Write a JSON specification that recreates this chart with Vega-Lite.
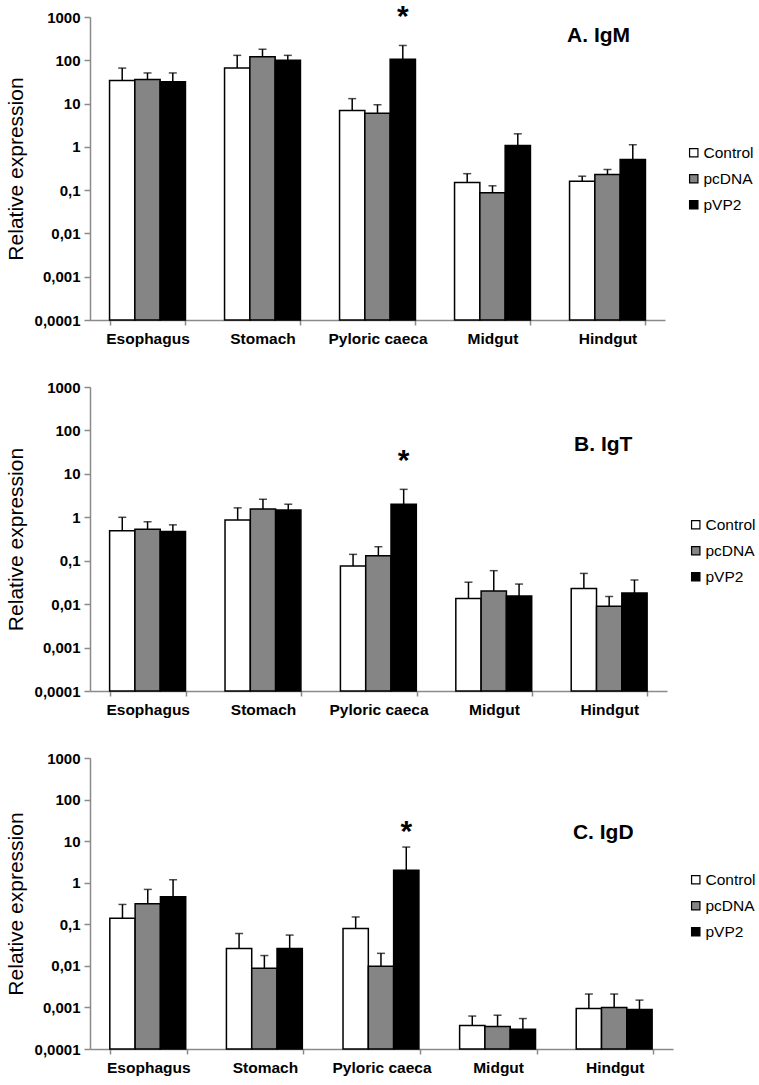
{
  "$schema": "https://vega.github.io/schema/vega-lite/v6.json",
  "background": "white",
  "padding": {"left": 5, "top": 2, "right": 2, "bottom": 5},
  "config": {
    "font": "Liberation Sans",
    "view": {"stroke": null},
    "axis": {"domainColor": "#8a8a8a", "tickColor": "#8a8a8a", "domainWidth": 1.5, "tickWidth": 1.5, "labelColor": "black", "titleColor": "black"},
    "axisX": {"title": null, "tickBand": "extent", "labelAngle": 0, "labelFontSize": 15.5, "labelFontWeight": "bold", "tickSize": 5, "labelPadding": 6},
    "legend": {"labelColor": "black"}
  },
  "datasets": {
    "igm": [
      {"tissue": "Esophagus", "group": "Control", "value": 34, "err": 66},
      {"tissue": "Esophagus", "group": "pcDNA", "value": 36, "err": 51},
      {"tissue": "Esophagus", "group": "pVP2", "value": 32, "err": 51},
      {"tissue": "Stomach", "group": "Control", "value": 66, "err": 130},
      {"tissue": "Stomach", "group": "pcDNA", "value": 120, "err": 180},
      {"tissue": "Stomach", "group": "pVP2", "value": 100, "err": 130},
      {"tissue": "Pyloric caeca", "group": "Control", "value": 6.9, "err": 13},
      {"tissue": "Pyloric caeca", "group": "pcDNA", "value": 6, "err": 9.4},
      {"tissue": "Pyloric caeca", "group": "pVP2", "value": 105, "err": 220, "sig": "*"},
      {"tissue": "Midgut", "group": "Control", "value": 0.15, "err": 0.24},
      {"tissue": "Midgut", "group": "pcDNA", "value": 0.087, "err": 0.126},
      {"tissue": "Midgut", "group": "pVP2", "value": 1.07, "err": 2.0},
      {"tissue": "Hindgut", "group": "Control", "value": 0.16, "err": 0.21},
      {"tissue": "Hindgut", "group": "pcDNA", "value": 0.23, "err": 0.30},
      {"tissue": "Hindgut", "group": "pVP2", "value": 0.51, "err": 1.12}
    ],
    "igt": [
      {"tissue": "Esophagus", "group": "Control", "value": 0.49, "err": 1.0},
      {"tissue": "Esophagus", "group": "pcDNA", "value": 0.53, "err": 0.79},
      {"tissue": "Esophagus", "group": "pVP2", "value": 0.47, "err": 0.67},
      {"tissue": "Stomach", "group": "Control", "value": 0.87, "err": 1.65},
      {"tissue": "Stomach", "group": "pcDNA", "value": 1.55, "err": 2.6},
      {"tissue": "Stomach", "group": "pVP2", "value": 1.47, "err": 2.0},
      {"tissue": "Pyloric caeca", "group": "Control", "value": 0.076, "err": 0.14},
      {"tissue": "Pyloric caeca", "group": "pcDNA", "value": 0.13, "err": 0.21},
      {"tissue": "Pyloric caeca", "group": "pVP2", "value": 2.0, "err": 4.4, "sig": "*"},
      {"tissue": "Midgut", "group": "Control", "value": 0.0135, "err": 0.032},
      {"tissue": "Midgut", "group": "pcDNA", "value": 0.02, "err": 0.059},
      {"tissue": "Midgut", "group": "pVP2", "value": 0.0155, "err": 0.029},
      {"tissue": "Hindgut", "group": "Control", "value": 0.023, "err": 0.051},
      {"tissue": "Hindgut", "group": "pcDNA", "value": 0.0089, "err": 0.015},
      {"tissue": "Hindgut", "group": "pVP2", "value": 0.018, "err": 0.036}
    ],
    "igd": [
      {"tissue": "Esophagus", "group": "Control", "value": 0.14, "err": 0.30},
      {"tissue": "Esophagus", "group": "pcDNA", "value": 0.31, "err": 0.69},
      {"tissue": "Esophagus", "group": "pVP2", "value": 0.46, "err": 1.18},
      {"tissue": "Stomach", "group": "Control", "value": 0.026, "err": 0.06},
      {"tissue": "Stomach", "group": "pcDNA", "value": 0.0087, "err": 0.0177},
      {"tissue": "Stomach", "group": "pVP2", "value": 0.026, "err": 0.055},
      {"tissue": "Pyloric caeca", "group": "Control", "value": 0.079, "err": 0.15},
      {"tissue": "Pyloric caeca", "group": "pcDNA", "value": 0.0098, "err": 0.02},
      {"tissue": "Pyloric caeca", "group": "pVP2", "value": 2.0, "err": 7.2, "sig": "*"},
      {"tissue": "Midgut", "group": "Control", "value": 0.00037, "err": 0.00062},
      {"tissue": "Midgut", "group": "pcDNA", "value": 0.00035, "err": 0.00065},
      {"tissue": "Midgut", "group": "pVP2", "value": 0.0003, "err": 0.00054},
      {"tissue": "Hindgut", "group": "Control", "value": 0.00094, "err": 0.0021},
      {"tissue": "Hindgut", "group": "pcDNA", "value": 0.001, "err": 0.0021},
      {"tissue": "Hindgut", "group": "pVP2", "value": 0.00089, "err": 0.0015}
    ]
  },
  "bounds": "flush",
  "spacing": 67,
  "resolve": {"scale": {"color": "independent", "x": "independent", "y": "independent"}, "legend": {"color": "independent"}},
  "vconcat": [
    {
      "width": 575,
      "height": 303,
      "data": {"name": "igm"},
      "encoding": {
        "x": {"field": "tissue", "type": "nominal", "sort": ["Esophagus", "Stomach", "Pyloric caeca", "Midgut", "Hindgut"],
          "scale": {"paddingInner": 0.34, "paddingOuter": 0.17}},
        "xOffset": {"field": "group", "type": "nominal", "sort": ["Control", "pcDNA", "pVP2"], "scale": {"paddingInner": 0, "paddingOuter": 0}}
      },
      "layer": [
        {
          "mark": {"type": "bar", "stroke": "black", "strokeWidth": 1.5},
          "encoding": {
            "y": {"field": "value", "type": "quantitative", "scale": {"type": "log", "domain": [0.0001, 1000], "nice": false},
              "axis": {"title": "Relative expression", "values": [0.0001, 0.001, 0.01, 0.1, 1, 10, 100, 1000], "labelExpr": "replace(format(datum.value,'~g'),'.',',')", "grid": false, "tickSize": 6, "labelFontSize": 15, "labelFontWeight": "bold", "labelPadding": 4, "titleFontSize": 21, "titleFontWeight": "normal", "titlePadding": 8}},
            "y2": {"datum": 0.0001},
            "color": {"field": "group", "type": "nominal", "sort": ["Control", "pcDNA", "pVP2"],
              "scale": {"domain": ["Control", "pcDNA", "pVP2"], "range": ["#ffffff", "#858585", "#000000"]},
              "legend": {"orient": "none", "legendX": 596, "legendY": 128, "title": null, "symbolType": "square", "symbolSize": 70, "symbolStrokeColor": "black", "symbolStrokeWidth": 1.2, "labelFontSize": 15.5, "labelOffset": 2, "rowPadding": 9}}
          }
        },
        {
          "mark": {"type": "rule", "color": "black", "strokeWidth": 1.5},
          "encoding": {"y": {"field": "value", "type": "quantitative"}, "y2": {"field": "err"}}
        },
        {
          "mark": {"type": "tick", "color": "black", "thickness": 1.5, "size": 8},
          "encoding": {"y": {"field": "err", "type": "quantitative"}}
        },
        {
          "transform": [{"filter": "datum.sig"}],
          "mark": {"type": "text", "fontSize": 30, "fontWeight": "bold", "baseline": "alphabetic", "dy": -19, "color": "black"},
          "encoding": {"y": {"field": "err", "type": "quantitative"}, "text": {"field": "sig"}}
        },
        {
          "data": {"values": [{}]},
          "mark": {"type": "text", "text": "A. IgM", "fontSize": 21, "fontWeight": "bold", "baseline": "middle", "align": "center", "dx": 29, "color": "black"},
          "encoding": {"x": {"datum": "Hindgut"}, "xOffset": {"value": 0}, "y": {"datum": 360}}
        }
      ]
    },
    {
      "width": 577,
      "height": 304,
      "data": {"name": "igt"},
      "encoding": {
        "x": {"field": "tissue", "type": "nominal", "sort": ["Esophagus", "Stomach", "Pyloric caeca", "Midgut", "Hindgut"],
          "scale": {"paddingInner": 0.34, "paddingOuter": 0.17}},
        "xOffset": {"field": "group", "type": "nominal", "sort": ["Control", "pcDNA", "pVP2"], "scale": {"paddingInner": 0, "paddingOuter": 0}}
      },
      "layer": [
        {
          "mark": {"type": "bar", "stroke": "black", "strokeWidth": 1.5},
          "encoding": {
            "y": {"field": "value", "type": "quantitative", "scale": {"type": "log", "domain": [0.0001, 1000], "nice": false},
              "axis": {"title": "Relative expression", "values": [0.0001, 0.001, 0.01, 0.1, 1, 10, 100, 1000], "labelExpr": "replace(format(datum.value,'~g'),'.',',')", "grid": false, "tickSize": 6, "labelFontSize": 15, "labelFontWeight": "bold", "labelPadding": 4, "titleFontSize": 21, "titleFontWeight": "normal", "titlePadding": 8}},
            "y2": {"datum": 0.0001},
            "color": {"field": "group", "type": "nominal", "sort": ["Control", "pcDNA", "pVP2"],
              "scale": {"domain": ["Control", "pcDNA", "pVP2"], "range": ["#ffffff", "#858585", "#000000"]},
              "legend": {"orient": "none", "legendX": 598, "legendY": 130, "title": null, "symbolType": "square", "symbolSize": 70, "symbolStrokeColor": "black", "symbolStrokeWidth": 1.2, "labelFontSize": 15.5, "labelOffset": 2, "rowPadding": 9}}
          }
        },
        {
          "mark": {"type": "rule", "color": "black", "strokeWidth": 1.5},
          "encoding": {"y": {"field": "value", "type": "quantitative"}, "y2": {"field": "err"}}
        },
        {
          "mark": {"type": "tick", "color": "black", "thickness": 1.5, "size": 8},
          "encoding": {"y": {"field": "err", "type": "quantitative"}}
        },
        {
          "transform": [{"filter": "datum.sig"}],
          "mark": {"type": "text", "fontSize": 30, "fontWeight": "bold", "baseline": "alphabetic", "dy": -19, "color": "black"},
          "encoding": {"y": {"field": "err", "type": "quantitative"}, "text": {"field": "sig"}}
        },
        {
          "data": {"values": [{}]},
          "mark": {"type": "text", "text": "B. IgT", "fontSize": 21, "fontWeight": "bold", "baseline": "middle", "align": "center", "dx": 32, "color": "black"},
          "encoding": {"x": {"datum": "Hindgut"}, "xOffset": {"value": 0}, "y": {"datum": 45}}
        }
      ]
    },
    {
      "width": 583,
      "height": 291,
      "data": {"name": "igd"},
      "encoding": {
        "x": {"field": "tissue", "type": "nominal", "sort": ["Esophagus", "Stomach", "Pyloric caeca", "Midgut", "Hindgut"],
          "scale": {"paddingInner": 0.34, "paddingOuter": 0.17}},
        "xOffset": {"field": "group", "type": "nominal", "sort": ["Control", "pcDNA", "pVP2"], "scale": {"paddingInner": 0, "paddingOuter": 0}}
      },
      "layer": [
        {
          "mark": {"type": "bar", "stroke": "black", "strokeWidth": 1.5},
          "encoding": {
            "y": {"field": "value", "type": "quantitative", "scale": {"type": "log", "domain": [0.0001, 1000], "nice": false},
              "axis": {"title": "Relative expression", "values": [0.0001, 0.001, 0.01, 0.1, 1, 10, 100, 1000], "labelExpr": "replace(format(datum.value,'~g'),'.',',')", "grid": false, "tickSize": 6, "labelFontSize": 15, "labelFontWeight": "bold", "labelPadding": 4, "titleFontSize": 21, "titleFontWeight": "normal", "titlePadding": 8}},
            "y2": {"datum": 0.0001},
            "color": {"field": "group", "type": "nominal", "sort": ["Control", "pcDNA", "pVP2"],
              "scale": {"domain": ["Control", "pcDNA", "pVP2"], "range": ["#ffffff", "#858585", "#000000"]},
              "legend": {"orient": "none", "legendX": 598, "legendY": 114, "title": null, "symbolType": "square", "symbolSize": 70, "symbolStrokeColor": "black", "symbolStrokeWidth": 1.2, "labelFontSize": 15.5, "labelOffset": 2, "rowPadding": 9}}
          }
        },
        {
          "mark": {"type": "rule", "color": "black", "strokeWidth": 1.5},
          "encoding": {"y": {"field": "value", "type": "quantitative"}, "y2": {"field": "err"}}
        },
        {
          "mark": {"type": "tick", "color": "black", "thickness": 1.5, "size": 8},
          "encoding": {"y": {"field": "err", "type": "quantitative"}}
        },
        {
          "transform": [{"filter": "datum.sig"}],
          "mark": {"type": "text", "fontSize": 30, "fontWeight": "bold", "baseline": "alphabetic", "dy": -6, "color": "black"},
          "encoding": {"y": {"field": "err", "type": "quantitative"}, "text": {"field": "sig"}}
        },
        {
          "data": {"values": [{}]},
          "mark": {"type": "text", "text": "C. IgD", "fontSize": 21, "fontWeight": "bold", "baseline": "middle", "align": "center", "dx": 27, "color": "black"},
          "encoding": {"x": {"datum": "Hindgut"}, "xOffset": {"value": 0}, "y": {"datum": 16}}
        }
      ]
    }
  ]
}
